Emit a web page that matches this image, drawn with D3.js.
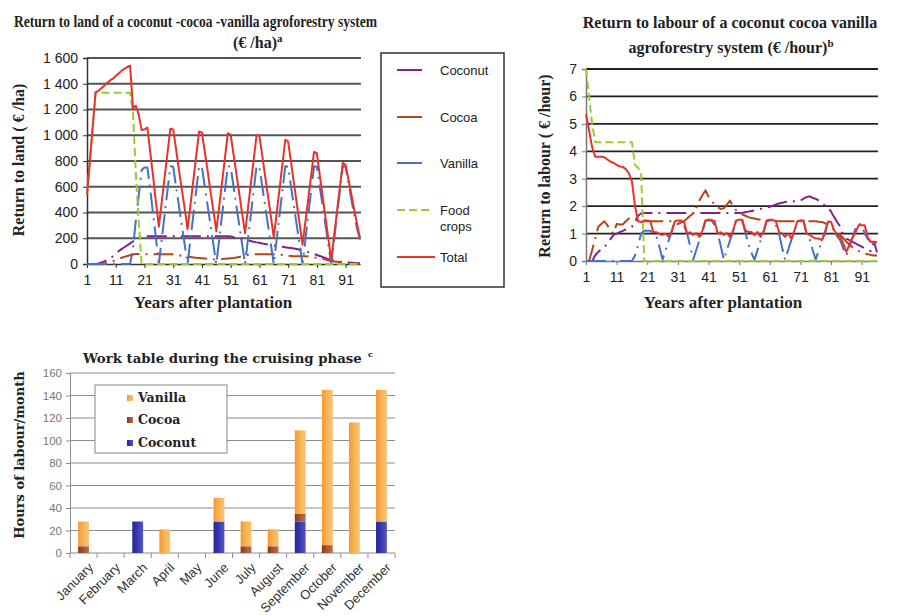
<!DOCTYPE html>
<html>
<head>
<meta charset="utf-8">
<script src="https://cdn.jsdelivr.net/npm/d3@7"></script>
<style>
  body { margin: 0; background: #fff; }
  svg { display: block; }
</style>
</head>
<body>
<svg id="fig" width="899" height="616"></svg>
<script>
// ---- data ----
const years = d3.range(1, 97);
const yearTicks = [1, 11, 21, 31, 41, 51, 61, 71, 81, 91];

// Return to land (EUR/ha)
const landTicks = [0, 200, 400, 600, 800, 1000, 1200, 1400, 1600];
const landTickLabels = ["0", "200", "400", "600", "800", "1 000", "1 200", "1 400", "1 600"];
const landCoconut = [
  0, 0, 0, 0, 5, 12, 20, 30, 45, 60,
  80, 100, 115, 130, 145, 160, 175, 190, 205, 215,
  215, 215, 215, 215, 215, 215, 215, 215, 215, 215,
  215, 215, 215, 215, 215, 215, 215, 215, 215, 215,
  215, 215, 215, 215, 215, 215, 215, 215, 215, 215,
  213, 208, 203, 198, 193, 188, 183, 178, 172, 168,
  165, 160, 156, 152, 148, 144, 140, 137, 134, 130,
  127, 124, 121, 116, 110, 104, 98, 92, 85, 78,
  70, 62, 54, 46, 38, 30, 25, 20, 18, 16,
  14, 12, 10, 8, 6, 5
];
const landCocoa = [
  0, 0, 0, 0, 0, 2, 5, 10, 15, 22,
  30, 40, 48, 55, 62, 68, 74, 78, 78, 78,
  76, 76, 76, 76, 76, 76, 76, 76, 76, 76,
  76, 72, 68, 64, 60, 57, 54, 51, 48, 46,
  44, 42, 40, 38, 36, 35, 36, 38, 40, 42,
  44, 46, 50, 55, 60, 65, 70, 73, 75, 76,
  76, 76, 76, 76, 76, 75, 74, 72, 70, 67,
  64, 62, 60, 60, 60, 60, 60, 58, 55, 52,
  48, 44, 40, 34, 28, 22, 20, 18, 16, 14,
  12, 10, 8, 6, 4, 2
];
const landVanilla = [
  0, 0, 0, 0, 0, 0, 0, 0, 0, 0,
  0, 0, 0, 0, 0, 0, 120, 340, 530, 730,
  750, 750, 580, 390, 200, 0, 190, 380, 570, 760,
  755, 600, 450, 300, 150, 0, 190, 380, 570, 760,
  755, 600, 450, 300, 150, 0, 190, 380, 570, 760,
  755, 600, 450, 300, 150, 0, 190, 380, 570, 760,
  755, 600, 450, 300, 150, 0, 190, 380, 570, 760,
  755, 600, 450, 300, 150, 0, 190, 380, 570, 760,
  755, 600, 450, 300, 150, 0, 190, 380, 570, 760,
  755, 630, 500, 380, 270, 190
];
const landFood = [
  540, 800, 1070, 1330, 1330, 1330, 1330, 1330, 1330, 1330,
  1330, 1330, 1330, 1330, 1330, 1330, 1180, 700, 330, 0,
  0, 0, 0, 0, 0, 0, 0, 0, 0, 0,
  0, 0, 0, 0, 0, 0, 0, 0, 0, 0,
  0, 0, 0, 0, 0, 0, 0, 0, 0, 0,
  0, 0, 0, 0, 0, 0, 0, 0, 0, 0,
  0, 0, 0, 0, 0, 0, 0, 0, 0, 0,
  0, 0, 0, 0, 0, 0, 0, 0, 0, 0,
  0, 0, 0, 0, 0, 0, 0, 0, 0, 0,
  0, 0, 0, 0, 0, 0
];
const landTotal = [
  540, 800, 1070, 1335, 1345, 1365, 1385, 1405, 1425, 1440,
  1460, 1480, 1500, 1515, 1530, 1540, 1210, 1230, 1160, 1040,
  1045, 1060, 870, 680, 480, 290, 480, 670, 860, 1050,
  1045, 890, 730, 580, 430, 270, 460, 650, 840, 1030,
  1020, 870, 720, 560, 410, 255, 445, 635, 825, 1015,
  1005, 850, 700, 545, 390, 240, 430, 620, 810, 1000,
  995, 840, 680, 525, 365, 205, 395, 585, 775, 965,
  950, 790, 630, 470, 310, 150, 330, 510, 690, 870,
  860, 690, 525, 360, 195, 30, 220, 410, 600, 785,
  770, 655, 540, 420, 310, 200
];

// Return to labour (EUR/hour)
const labourTicks = [0, 1, 2, 3, 4, 5, 6, 7];
const labourCoconut = [
  0, 0, 0, 0.2, 0.33, 0.43, 0.5, 0.65, 0.8, 0.95,
  1.0, 1.05, 1.1, 1.15, 1.2, 1.25, 1.45, 1.65, 1.73, 1.75,
  1.75, 1.75, 1.75, 1.75, 1.75, 1.75, 1.75, 1.75, 1.75, 1.75,
  1.75, 1.75, 1.75, 1.75, 1.75, 1.75, 1.75, 1.75, 1.75, 1.75,
  1.75, 1.75, 1.75, 1.75, 1.75, 1.75, 1.75, 1.75, 1.75, 1.75,
  1.75, 1.76, 1.78, 1.8, 1.82, 1.84, 1.88, 1.9, 1.93, 1.95,
  1.98, 2.02, 2.06, 2.1, 2.12, 2.15, 2.17, 2.18, 2.18, 2.18,
  2.2, 2.27, 2.33, 2.36, 2.3, 2.27, 2.2, 2.1, 2.02, 1.97,
  1.8, 1.6, 1.42, 1.25, 0.95, 0.82, 0.76, 0.7, 0.64, 0.58,
  0.52, 0.46, 0.4, 0.36, 0.7, 0.32
];
const labourCocoa = [
  0, 0, 0.4, 0.8, 1.25, 1.35, 1.45, 1.3, 1.1, 1.0,
  1.35, 1.33, 1.33, 1.45, 1.55, 1.55, 1.5, 1.47, 1.45, 1.45,
  1.45, 1.45, 1.45, 1.45, 1.45, 1.45, 1.45, 1.45, 1.45, 1.4,
  1.35, 1.4, 1.45, 1.55, 1.65, 1.73, 1.95, 2.2, 2.4, 2.58,
  2.35, 2.2, 2.05, 1.95, 1.9, 1.92, 2.05, 2.2, 2.0, 1.85,
  1.78, 1.7, 1.65, 1.6, 1.57, 1.55, 1.52, 1.5, 1.48, 1.47,
  1.45, 1.45, 1.45, 1.45, 1.45, 1.45, 1.45, 1.45, 1.45, 1.45,
  1.45, 1.45, 1.45, 1.45, 1.45, 1.45, 1.43, 1.42, 1.38, 1.3,
  1.22, 1.14, 1.05, 0.95, 0.83, 0.7, 0.6, 0.5, 0.42, 0.36,
  0.3, 0.27, 0.25, 0.22, 0.2, 0.2
];
const labourVanilla = [
  0, 0, 0, 0, 0, 0, 0, 0, 0, 0,
  0, 0, 0, 0, 0, 0, 0.2, 0.57, 1.0, 1.1,
  1.1, 1.1, 1.0, 0.9, 0.5, 0.05, 0.4, 0.75, 1.06, 1.45,
  1.47, 1.47, 1.3, 1.0, 0.55, 0.05, 0.4, 0.75, 1.06, 1.47,
  1.48, 1.48, 1.3, 1.0, 0.55, 0.05, 0.4, 0.75, 1.06, 1.47,
  1.48, 1.48, 1.06, 0.63, 0.3, 0.05, 0.4, 0.75, 1.06, 1.47,
  1.48, 1.48, 1.3, 1.0, 0.5, 0.05, 0.4, 0.75, 1.06, 1.43,
  1.47, 1.47, 1.0, 0.8, 0.4, 0.05, 0.4, 0.75, 1.06, 1.43,
  1.43, 1.1, 0.9, 0.75, 0.45, 0.2, 0.5, 0.85, 1.2, 1.37,
  1.3, 1.0, 0.8, 0.7, 0.65, 0.6
];
const labourFood = [
  7.0, 6.0, 5.0, 4.33, 4.33, 4.33, 4.33, 4.33, 4.33, 4.33,
  4.33, 4.33, 4.33, 4.33, 4.33, 4.33, 3.5, 3.4, 3.2, 0,
  0, 0, 0, 0, 0, 0, 0, 0, 0, 0,
  0, 0, 0, 0, 0, 0, 0, 0, 0, 0,
  0, 0, 0, 0, 0, 0, 0, 0, 0, 0,
  0, 0, 0, 0, 0, 0, 0, 0, 0, 0,
  0, 0, 0, 0, 0, 0, 0, 0, 0, 0,
  0, 0, 0, 0, 0, 0, 0, 0, 0, 0,
  0, 0, 0, 0, 0, 0, 0, 0, 0, 0,
  0, 0, 0, 0, 0, 0
];
const labourTotal = [
  5.35, 4.75, 4.15, 3.8, 3.8, 3.8, 3.78, 3.7, 3.62, 3.58,
  3.5, 3.45, 3.43, 3.35, 3.2, 2.9, 2.0, 1.45, 1.42, 1.48,
  1.48, 1.45, 1.05, 1.05, 0.98, 0.95, 1.0, 0.88, 1.1, 1.45,
  1.48, 1.48, 1.42, 1.0, 1.05, 0.95, 1.02, 0.88, 1.1, 1.48,
  1.5, 1.5, 1.45, 1.0, 1.05, 0.95, 1.02, 0.88, 1.1, 1.48,
  1.5, 1.5, 1.12, 1.06, 1.06, 0.94, 1.06, 0.88, 1.1, 1.48,
  1.5, 1.5, 1.45, 1.06, 1.0, 0.88, 1.0, 0.82, 1.1, 1.45,
  1.48, 1.48, 1.0, 0.95, 0.88, 0.82, 0.82, 0.76, 1.0, 1.43,
  1.43, 1.12, 0.95, 0.88, 0.63, 0.33, 0.6, 0.85, 1.05, 1.3,
  1.3, 1.3, 0.85, 0.7, 0.7, 0.68
];

// Work table (hours of labour / month)
const months = ["January", "February", "March", "April", "May", "June", "July",
  "August", "September", "October", "November", "December"];
const workCoconut = [0, 0, 28, 0, 0, 28, 0, 0, 28, 0, 0, 28];
const workCocoa = [6, 0, 0, 0, 0, 0, 6, 6, 7, 7, 0, 0];
const workVanilla = [22, 0, 0, 21, 0, 21, 22, 15, 74, 138, 116, 117];
const workTicks = [0, 20, 40, 60, 80, 100, 120, 140, 160];

// ---- drawing ----
const svg = d3.select("#fig");
const serif = "'Liberation Serif', 'Times New Roman', serif";
const sans = "'Liberation Sans', Arial, sans-serif";

const colors = {
  coconut: "#84208e",
  cocoa: "#b3451a",
  vanilla: "#4472c4",
  food: "#9acd2c",
  total: "#e8322c"
};
const dashSeries = "20,6,2,6";

function lineChart(o) {
  const g = svg.append("g");
  const x = d3.scaleLinear().domain([1, 96]).range([o.left, o.right]);
  const y = d3.scaleLinear().domain([0, o.max]).range([o.bottom, o.top]);

  // horizontal grid
  g.append("g").selectAll("line")
    .data(o.ticks.slice(1))
    .join("line")
    .attr("x1", o.left).attr("x2", o.right + 1)
    .attr("y1", d => y(d)).attr("y2", d => y(d))
    .attr("stroke", o.gridColor)
    .attr("stroke-width", o.gridWidth);

  // y axis
  const ya = g.append("g")
    .attr("transform", `translate(${o.left},0)`)
    .call(d3.axisLeft(y).tickValues(o.ticks).tickSize(4).tickPadding(5)
      .tickFormat((d, i) => o.tickLabels[i]));
  ya.select(".domain").attr("stroke", o.axisColor).attr("stroke-width", 1.5);
  ya.selectAll(".tick line").attr("stroke", o.axisColor);
  ya.selectAll("text").attr("font-family", sans).attr("font-size", 14).attr("fill", "#222");

  // x axis
  const xa = g.append("g")
    .attr("transform", `translate(0,${o.bottom})`)
    .call(d3.axisBottom(x).tickValues(yearTicks).tickSize(4).tickPadding(7).tickSizeOuter(0));
  xa.select(".domain").attr("stroke", o.axisColor).attr("stroke-width", 1.5);
  xa.selectAll(".tick line").attr("stroke", o.axisColor);
  xa.selectAll("text").attr("font-family", sans).attr("font-size", 14).attr("fill", "#222");

  const line = d3.line().x((d, i) => x(years[i])).y(d => y(d));
  o.series.forEach(s => {
    g.append("path")
      .datum(s.values)
      .attr("d", line)
      .attr("fill", "none")
      .attr("stroke", s.color)
      .attr("stroke-width", 2)
      .attr("stroke-linejoin", "round")
      .attr("stroke-dasharray", s.dash || null);
  });

  // axis titles
  g.append("text")
    .attr("transform", `translate(${o.ylabelX},${o.ylabelY}) rotate(-90)`)
    .attr("text-anchor", "middle")
    .attr("font-family", serif).attr("font-weight", "bold").attr("font-size", 16)
    .attr("fill", "#222")
    .text(o.ylabel);
  g.append("text")
    .attr("x", o.xlabelX).attr("y", 308)
    .attr("text-anchor", "middle")
    .attr("font-family", serif).attr("font-weight", "bold").attr("font-size", 17)
    .attr("fill", "#222")
    .text("Years after plantation");
  return g;
}

// Chart 1: return to land
lineChart({
  left: 87, right: 360, top: 58, bottom: 264, max: 1600,
  ticks: landTicks, tickLabels: landTickLabels,
  gridColor: "#555", gridWidth: 2, axisColor: "#333",
  ylabel: "Return to land ( \u20ac /ha)", ylabelX: 24, ylabelY: 160, xlabelX: 213,
  series: [
    { values: landCoconut, color: colors.coconut, dash: dashSeries },
    { values: landCocoa, color: colors.cocoa, dash: dashSeries },
    { values: landVanilla, color: colors.vanilla, dash: dashSeries },
    { values: landFood, color: colors.food, dash: "8,4" },
    { values: landTotal, color: colors.total }
  ]
});

// titles chart 1
const t1 = svg.append("g").attr("font-family", serif).attr("font-weight", "bold").attr("fill", "#222");
t1.append("text").attr("x", 14).attr("y", 27).attr("font-size", 17)
  .attr("textLength", 363).attr("lengthAdjust", "spacingAndGlyphs")
  .text("Return to land of a coconut -cocoa -vanilla agroforestry system");
const t1b = t1.append("text").attr("x", 233).attr("y", 48).attr("font-size", 16);
t1b.append("tspan").text("(\u20ac /ha)");
t1b.append("tspan").attr("font-size", 11).attr("dy", -6).text("a");

// legend chart 1
const lg = svg.append("g").attr("font-family", sans).attr("font-size", 13).attr("fill", "#222");
lg.append("rect").attr("x", 381).attr("y", 53).attr("width", 123).attr("height", 234)
  .attr("fill", "#fff").attr("stroke", "#333").attr("stroke-width", 1.5);
const legendItems = [
  { name: ["Coconut"], color: colors.coconut, y: 70, len: 25 },
  { name: ["Cocoa"], color: colors.cocoa, y: 117, len: 25 },
  { name: ["Vanilla"], color: colors.vanilla, y: 163, len: 25 },
  { name: ["Food", "crops"], color: colors.food, y: 210, len: 36, dash: "8,4" },
  { name: ["Total"], color: colors.total, y: 257, len: 38 }
];
legendItems.forEach(it => {
  lg.append("line").attr("x1", 397).attr("x2", 397 + it.len)
    .attr("y1", it.y).attr("y2", it.y)
    .attr("stroke", it.color).attr("stroke-width", 2)
    .attr("stroke-dasharray", it.dash || null);
  it.name.forEach((n, k) => {
    lg.append("text").attr("x", 440).attr("y", it.y + 5 + k * 16).text(n);
  });
});

// Chart 2: return to labour
lineChart({
  left: 586, right: 877, top: 69, bottom: 261, max: 7,
  ticks: labourTicks, tickLabels: labourTicks.map(String),
  gridColor: "#222", gridWidth: 1.8, axisColor: "#777",
  ylabel: "Return to labour ( \u20ac /hour)", ylabelX: 550, ylabelY: 166, xlabelX: 723,
  series: [
    { values: labourCoconut, color: colors.coconut, dash: dashSeries },
    { values: labourCocoa, color: colors.cocoa, dash: dashSeries },
    { values: labourVanilla, color: colors.vanilla, dash: dashSeries },
    { values: labourFood, color: colors.food, dash: "8,4" },
    { values: labourTotal, color: colors.total }
  ]
});

const t2 = svg.append("g").attr("font-family", serif).attr("font-weight", "bold")
  .attr("fill", "#222").attr("font-size", 16).attr("text-anchor", "middle");
t2.append("text").attr("x", 730).attr("y", 28).text("Return to labour of a coconut cocoa vanilla");
const t2b = t2.append("text").attr("x", 731).attr("y", 53);
t2b.append("tspan").text("agroforestry system (\u20ac /hour)");
t2b.append("tspan").attr("font-size", 11).attr("dy", -6).text("b");

// Chart 3: work table (stacked bars)
const b = { left: 70, right: 395, top: 373, bottom: 553 };
const g3 = svg.append("g");
const defs = svg.append("defs");
function grad(id, stops) {
  const lgd = defs.append("linearGradient").attr("id", id)
    .attr("x1", "0%").attr("x2", "100%").attr("y1", "0%").attr("y2", "0%");
  stops.forEach((c, i) => lgd.append("stop")
    .attr("offset", (i / (stops.length - 1) * 100) + "%").attr("stop-color", c));
}
grad("gVanilla", ["#f29a2e", "#f7b454", "#fac27a"]);
grad("gCocoa", ["#8a3418", "#a85536", "#b86e52"]);
grad("gCoconut", ["#26268f", "#3a3ab2", "#5656c4"]);
const fills = { coconut: "url(#gCoconut)", cocoa: "url(#gCocoa)", vanilla: "url(#gVanilla)" };

const workTable = months.map((m, i) => ({
  month: m, coconut: workCoconut[i], cocoa: workCocoa[i], vanilla: workVanilla[i]
}));
const stacked = d3.stack().keys(["coconut", "cocoa", "vanilla"])(workTable);

const xb = d3.scaleBand().domain(months).range([b.left, b.right])
  .paddingInner(0.6).paddingOuter(0.3);
const yb = d3.scaleLinear().domain([0, 160]).range([b.bottom, b.top]);

g3.append("g").selectAll("line").data(workTicks.slice(1)).join("line")
  .attr("x1", b.left).attr("x2", b.right)
  .attr("y1", d => yb(d)).attr("y2", d => yb(d))
  .attr("stroke", "#8c8c8c").attr("stroke-width", 1);

const yb3 = g3.append("g").attr("transform", `translate(${b.left},0)`)
  .call(d3.axisLeft(yb).tickValues(workTicks).tickSize(4).tickPadding(4));
yb3.selectAll(".domain, .tick line").attr("stroke", "#8c8c8c");
yb3.selectAll("text").attr("font-family", sans).attr("font-size", 11.5).attr("fill", "#777");

// category boundary ticks on x axis
const step = xb.step();
g3.append("line").attr("x1", b.left).attr("x2", b.right)
  .attr("y1", b.bottom).attr("y2", b.bottom).attr("stroke", "#8c8c8c");
g3.append("g").selectAll("line").data(d3.range(13)).join("line")
  .attr("x1", i => b.left + i * step).attr("x2", i => b.left + i * step)
  .attr("y1", b.bottom).attr("y2", b.bottom + 5).attr("stroke", "#8c8c8c");

g3.append("g").selectAll("g").data(stacked).join("g")
  .attr("fill", d => fills[d.key])
  .selectAll("rect").data(d => d).join("rect")
  .attr("x", d => xb(d.data.month))
  .attr("width", xb.bandwidth())
  .attr("y", d => yb(d[1]))
  .attr("height", d => yb(d[0]) - yb(d[1]));

g3.append("g").selectAll("text").data(months).join("text")
  .attr("transform", d => `translate(${xb(d) + xb.bandwidth() / 2 + 4},${b.bottom + 9}) rotate(-45)`)
  .attr("text-anchor", "end")
  .attr("dy", "0.7em")
  .attr("font-family", sans).attr("font-size", 13).attr("fill", "#333")
  .text(d => d);

// title + y label
const t3font = "'DejaVu Serif', serif";
g3.append("text").attr("x", 83).attr("y", 363)
  .attr("font-family", t3font).attr("font-weight", "bold")
  .attr("font-size", 13.3).attr("fill", "#222")
  .text("Work table during the cruising phase");
g3.append("text").attr("x", 368).attr("y", 357)
  .attr("font-family", t3font).attr("font-weight", "bold")
  .attr("font-size", 8).attr("fill", "#222")
  .text("c");

g3.append("text")
  .attr("transform", "translate(24,455) rotate(-90)")
  .attr("text-anchor", "middle")
  .attr("font-family", t3font).attr("font-weight", "bold")
  .attr("font-size", 13).attr("fill", "#222")
  .text("Hours of labour/month");

// legend chart 3
const lg3 = g3.append("g");
lg3.append("rect").attr("x", 95).attr("y", 385).attr("width", 132).attr("height", 68)
  .attr("fill", "#fff").attr("stroke", "#888").attr("stroke-width", 1);
[
  { name: "Vanilla", key: "vanilla", y: 398 },
  { name: "Cocoa", key: "cocoa", y: 420 },
  { name: "Coconut", key: "coconut", y: 443 }
].forEach(it => {
  lg3.append("rect").attr("x", 127).attr("y", it.y - 3).attr("width", 6).attr("height", 6)
    .attr("fill", fills[it.key]);
  lg3.append("text").attr("x", 138).attr("y", it.y + 4)
    .attr("font-family", t3font).attr("font-weight", "bold")
    .attr("font-size", 12.5).attr("fill", "#222")
    .text(it.name);
});
</script>
</body>
</html>
